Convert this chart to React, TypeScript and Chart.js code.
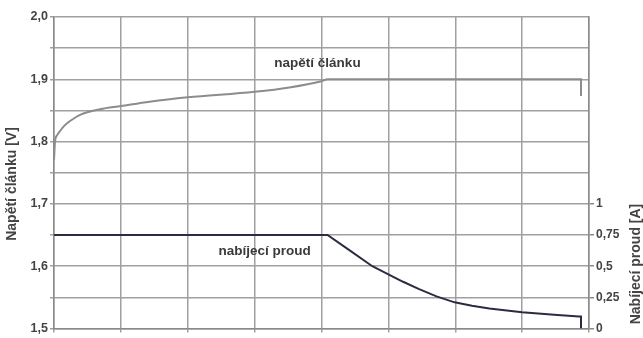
import React, { useEffect, useRef } from "react";
import { Chart, registerables } from "chart.js";

Chart.register(...registerables);

// time axis in grid units (8 divisions)
const voltageT = [0, 0.015, 0.045, 0.09, 0.16, 0.24, 0.39, 0.69, 1, 1.43, 2, 3, 3.52, 4, 4.09, 7.88, 7.88];
const voltageV = [1.77, 1.8, 1.81, 1.817, 1.826, 1.833, 1.843, 1.852, 1.857, 1.864, 1.871, 1.88, 1.887, 1.897, 1.9, 1.9, 1.873];
const currentT = [0, 4.09, 4.4, 4.76, 5, 5.22, 5.46, 5.72, 5.99, 6.25, 6.51, 7, 7.48, 7.85, 7.88, 7.88];
const currentA = [0.75, 0.75, 0.635, 0.5, 0.435, 0.375, 0.316, 0.258, 0.21, 0.182, 0.16, 0.13, 0.11, 0.097, 0.096, 0];

const leftTitle = "Napětí článku [V]";
const rightTitle = "Nabíjecí proud [A]";
const voltageLabel = "napětí článku";
const currentLabel = "nabíjecí proud";

const FONT = "'Liberation Sans', Arial, sans-serif";

export default function App() {
  const ref = useRef<HTMLCanvasElement>(null);
  useEffect(() => {
    document.body.style.margin = "0";
    const labelsPlugin = {
      id: "labels",
      afterDraw(chart: any) {
        const ctx = chart.ctx;
        const x = chart.scales.x;
        const y = chart.scales.y;
        const y2 = chart.scales.y2;
        ctx.save();
        ctx.fillStyle = "#444";
        ctx.textAlign = "center";
        ctx.textBaseline = "middle";
        ctx.font = `bold 14px ${FONT}`;
        ctx.translate(12, 184);
        ctx.rotate(-Math.PI / 2);
        ctx.fillText(leftTitle, 0, 0);
        ctx.restore();
        ctx.save();
        ctx.fillStyle = "#444";
        ctx.textAlign = "center";
        ctx.textBaseline = "middle";
        ctx.font = `bold 14px ${FONT}`;
        ctx.translate(636, 264);
        ctx.rotate(-Math.PI / 2);
        ctx.fillText(rightTitle, 0, 0);
        ctx.restore();
        ctx.save();
        ctx.fillStyle = "#3a3a3a";
        ctx.textAlign = "center";
        ctx.textBaseline = "middle";
        ctx.font = `bold 13.5px ${FONT}`;
        ctx.fillText(voltageLabel, x.getPixelForValue(3.94), y.getPixelForValue(1.925));
        ctx.fillText(currentLabel, x.getPixelForValue(3.15), y2.getPixelForValue(0.617));
        ctx.restore();
      },
    };
    const chart = new Chart(ref.current!, {
      type: "line",
      data: {
        datasets: [
          {
            data: voltageT.map((t, i) => ({ x: t, y: voltageV[i] })),
            yAxisID: "y",
            borderColor: "#8c8c8a",
            borderWidth: 2,
            pointRadius: 0,
            cubicInterpolationMode: "monotone",
          },
          {
            data: currentT.map((t, i) => ({ x: t, y: currentA[i] })),
            yAxisID: "y2",
            borderColor: "#2a2d42",
            borderWidth: 2,
            pointRadius: 0,
            tension: 0,
          },
        ],
      },
      options: {
        animation: false,
        responsive: false,
        layout: { padding: { top: 17, left: 0, right: 0, bottom: 0 } },
        plugins: { legend: { display: false }, tooltip: { enabled: false } },
        scales: {
          x: {
            type: "linear",
            min: 0,
            max: 8,
            ticks: { stepSize: 1, callback: () => "", display: true, padding: 0, font: { size: 1 } },
            grid: { color: "#a0a0a0", lineWidth: 1.5, tickLength: 4 },
            border: { color: "#8a8a8a", width: 1.5 },
            afterFit: (s: any) => { s.height = 5; },
          },
          y: {
            position: "left",
            min: 1.5,
            max: 2.0,
            ticks: {
              stepSize: 0.05,
              color: "#444",
              font: { family: FONT, size: 12.5, weight: "bold" },
              padding: 2,
              callback: (v: any) => {
                const n = Math.round(Number(v) * 100);
                return n % 10 === 0 ? (n / 100).toFixed(1).replace(".", ",") : "";
              },
            },
            grid: { color: "#a0a0a0", lineWidth: 1.5, tickLength: 4 },
            border: { color: "#8a8a8a", width: 1.5 },
            afterFit: (s: any) => { s.width = 54; },
          },
          y2: {
            position: "right",
            min: 0,
            max: 2.5,
            ticks: {
              stepSize: 0.25,
              color: "#444",
              font: { family: FONT, size: 12, weight: "bold" },
              padding: 2,
              callback: (v: any) => (Number(v) <= 1.0001 ? String(v).replace(".", ",") : ""),
            },
            grid: {
              drawOnChartArea: false,
              tickLength: 5,
              lineWidth: 1.5,
              color: (c: any) => (c.tick && c.tick.value <= 1.0001 ? "#8a8a8a" : "rgba(0,0,0,0)"),
            },
            border: { color: "#8a8a8a", width: 1.5 },
            afterFit: (s: any) => { s.width = 54; },
          },
        },
      },
      plugins: [labelsPlugin],
    });
    return () => chart.destroy();
  }, []);
  return (
    <div style={{ width: 643, height: 338 }}>
      <canvas ref={ref} width={643} height={338} style={{ display: "block" }} />
    </div>
  );
}
